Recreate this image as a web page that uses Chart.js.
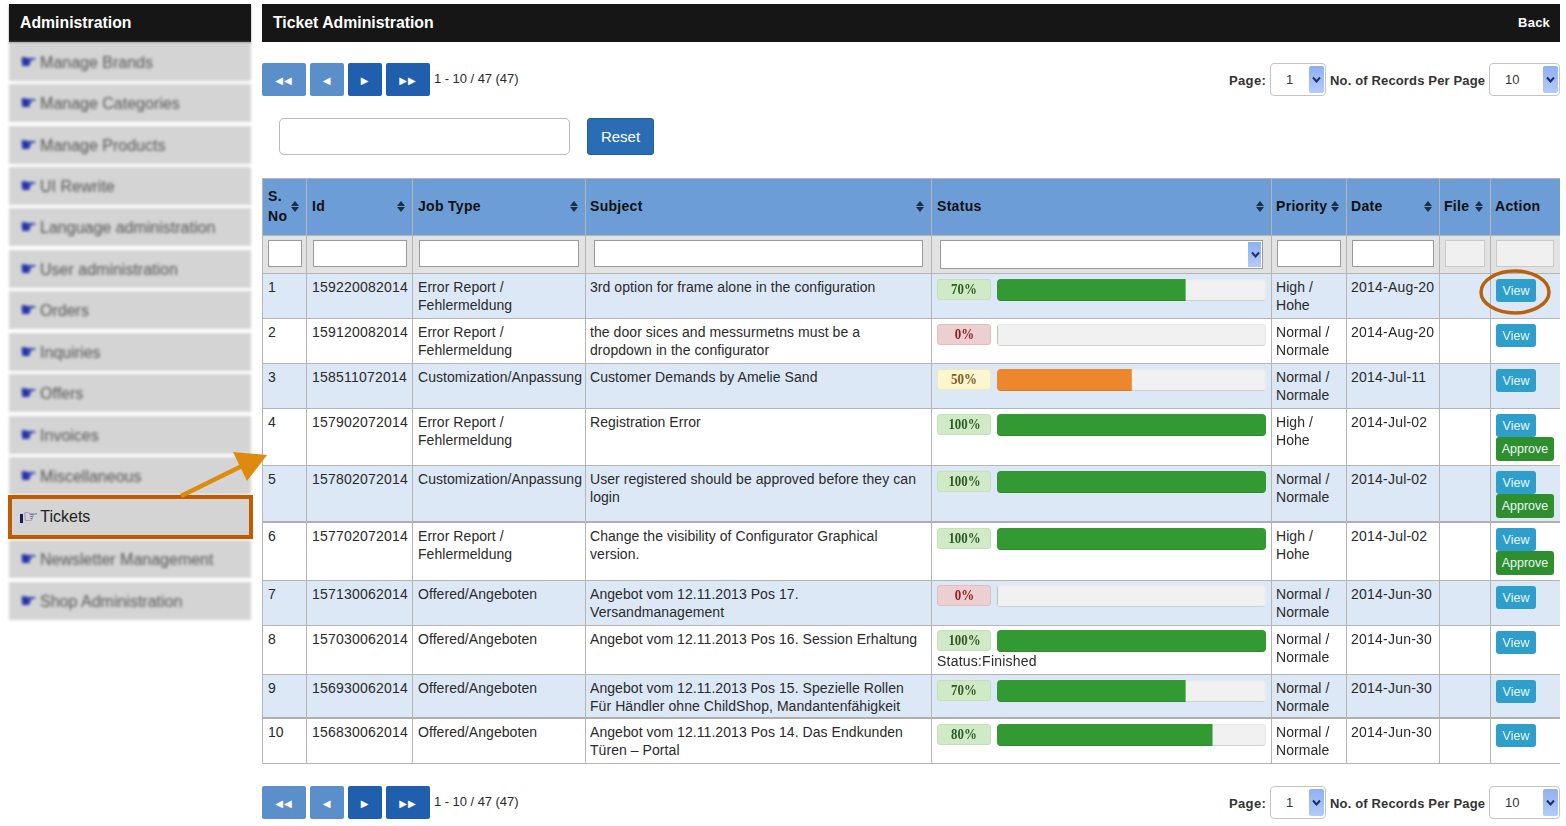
<!DOCTYPE html>
<html>
<head>
<meta charset="utf-8">
<title>Ticket Administration</title>
<script src="https://cdn.jsdelivr.net/npm/chart.js@4"></script>
<style>
html, body { margin: 0; padding: 0; background: #fff; width: 1566px; height: 826px; overflow: hidden; }
body { font-family: "Liberation Sans", Arial, sans-serif; font-size: 14px; color: #2a2a2a; position: relative; }
.titlebar { position: absolute; background: #161616; color: #fff; font-weight: bold; top: 4px; height: 38px; line-height: 37px; box-sizing: border-box; font-size: 15.8px; padding-left: 11px; }
#side-title { left: 9px; width: 242px; box-shadow: 0 2px 2px #999; }
#main-title { left: 262px; width: 1298px; }
#back { position: absolute; right: 10px; top: 0; font-size: 13px; letter-spacing: .2px; }
.menu-item { position: absolute; left: 9px; width: 242px; height: 38px; background: #d4d4d4; line-height: 36px; white-space: nowrap; font-size: 16px; color: #333; box-sizing: border-box; padding-left: 11px; }
.menu-item.blur { filter: blur(1.8px); color: #555; }
.menu-item .hand { font-family: "DejaVu Sans"; color: #2233aa; font-size: 19px; font-weight: bold; margin-right: 3px; }
#tickets { left: 8px; top: 495px; width: 245px; height: 44px; border: 4px solid #c25a00; line-height: 35px; padding-left: 8px; color: #222; z-index: 3; }
#tickets .hand { font-size: 17px; font-weight: normal; color: #1a1a8f; margin-right: 2px; }
#tickets .cuff { display: inline-block; width: 3px; height: 9px; background: #1a1a5f; vertical-align: -1px; }
.pg { position: absolute; height: 33px; border-radius: 2px; color: #fff; font-family: "DejaVu Sans"; font-size: 10px; text-align: center; line-height: 35px; letter-spacing: 1px; }
.pg.light { background: #5b8fc9; }
.pg.dark { background: #1f5fae; }
.pg-info { position: absolute; left: 434px; font-size: 13px; letter-spacing: -.05px; }
.lbl { position: absolute; font-weight: bold; font-size: 13px; letter-spacing: .35px; color: #333; }
.lbl.long { letter-spacing: .15px; }
.sel { position: absolute; height: 33px; border: 1px solid #c4c4c4; border-radius: 4px; box-sizing: border-box; background: #fff; line-height: 32px; color: #333; font-size: 13px; }
.sel .val { position: absolute; left: 15px; }
.sel .arr { position: absolute; right: 1px; top: 2px; bottom: 2px; width: 15px; background: linear-gradient(#8fb0f0, #b4cbf8); border-radius: 2px; }
.sel svg, .fsel svg { position: absolute; left: 3px; top: 50%; margin-top: -4px; }
#search { position: absolute; left: 279px; top: 118px; width: 291px; height: 37px; border: 1px solid #bbb; border-radius: 5px; box-sizing: border-box; background: #fff; }
#reset { position: absolute; left: 587px; top: 118px; width: 67px; height: 37px; background: #2a6db5; border: 1px solid #1f5fa0; border-radius: 3px; box-sizing: border-box; color: #fff; text-align: center; line-height: 35px; font-size: 15px; }
table { position: absolute; left: 262px; top: 178px; width: 1298px; border-collapse: separate; border-spacing: 0; table-layout: fixed; }
th, td { box-sizing: border-box; border-right: 1px solid #b5b5b5; border-bottom: 1px solid #b5b5b5; vertical-align: top; padding: 5.4px 3px 0 5px; position: relative; line-height: 17.5px; letter-spacing: .06px; }
td.num { letter-spacing: .22px; }
th:first-child, td:first-child { border-left: 1px solid #b5b5b5; }
th:last-child, td:last-child { border-right: 0; }
thead tr.head th { height: 58px; background: #6d9dd6; text-align: left; color: #111; vertical-align: middle; padding: 0 0 2px 5px; letter-spacing: .3px; border-top: 1px solid #b5b5b5; line-height: 20px; }
thead tr.filter th { height: 38px; background: #e2e2e2; padding: 0; }
thead tr.head th:nth-child(4), td:nth-child(4),
thead tr.head th:nth-child(n+6), td:nth-child(n+6) { padding-left: 4px; }
tbody tr:nth-child(odd) td { background: #dde8f6; }
tbody tr.thick td { border-bottom: 2px solid #b0b0b0; }
.sort { position: absolute; right: 6px; top: 50%; margin-top: -6px; width: 9px; height: 11px; }
.sort:before, .sort:after { content: ""; position: absolute; left: 0; border-left: 4.5px solid transparent; border-right: 4.5px solid transparent; }
.sort:before { top: 0; border-bottom: 5px solid #1c2f44; }
.sort:after { bottom: 0; border-top: 5px solid #1c2f44; }
.fbox { position: absolute; top: 4px; height: 27px; background: #fff; border: 1px solid #9a9a9a; box-sizing: border-box; }
.fbox.off { background: #f0f0f0; border-color: #c8c8c8; }
.fbox.wide { height: 29px; }
.fsel { position: absolute; right: 1px; top: 1px; bottom: 1px; width: 13px; background: linear-gradient(#8fb0f0, #b4cbf8); }
.badge { position: absolute; left: 5px; top: 5px; width: 54px; height: 21px; border-radius: 3px; box-sizing: border-box; text-align: center; line-height: 19px; font-family: "Liberation Serif", serif; font-weight: bold; font-size: 14px; letter-spacing: 0; }
.badge span { display: inline-block; transform: scaleX(.92); }
.badge.good { background: #d0e9c6; border: 1px solid #c2e2b4; color: #2d5a23; }
.badge.none { background: #eccfd0; border: 1px solid #e3bcbe; color: #8c2020; }
.badge.mid { background: #fcf6cf; border: 1px solid #f2e9b8; color: #7a5c1e; }
.track { position: absolute; left: 65px; top: 5px; width: 269px; height: 22px; background: #f1f1f1; border-radius: 4px; box-shadow: inset 0 0 2px #d8d8d8; overflow: hidden; }
.track:after { content: ""; position: absolute; left: 0; right: 0; bottom: 0; height: 1px; background: rgba(0, 40, 0, .12); }
.track canvas { display: block; }
.finished { position: absolute; left: 5px; top: 27px; letter-spacing: .22px; }
.act { position: absolute; left: 5px; color: #eaf6fb; text-align: center; border-radius: 3px; font-size: 12.5px; letter-spacing: 0; }
.act.view { top: 5px; width: 40px; height: 23px; line-height: 24px; background: #2e9fcb; }
.act.approve { top: 28px; width: 58px; height: 24px; line-height: 25px; background: #2f8f2f; }
#marks { position: absolute; left: 0; top: 0; z-index: 5; pointer-events: none; }
</style>
</head>
<body>
<div class="titlebar" id="side-title">Administration</div>
<div class="titlebar" id="main-title">Ticket Administration<span id="back">Back</span></div>
<div id="menu"></div>
<div id="top-pager"></div>
<div id="search"></div>
<div id="reset">Reset</div>
<table>
  <colgroup id="cols"></colgroup>
  <thead>
    <tr class="head" id="head-row"></tr>
    <tr class="filter" id="filter-row"></tr>
  </thead>
  <tbody id="rows"></tbody>
</table>
<div id="bottom-pager"></div>
<svg id="marks" width="1566" height="826">
  <line x1="181" y1="496" x2="246" y2="464" stroke="#de8a0f" stroke-width="4.5"/>
  <polygon points="267,455 233,452 247,481" fill="#de8a0f"/>
  <ellipse cx="1515" cy="292" rx="34" ry="21" fill="none" stroke="#b8610e" stroke-width="3.5"/>
</svg>

<script>
const menuLabels = ["Manage Brands", "Manage Categories", "Manage Products", "UI Rewrite", "Language administration",
  "User administration", "Orders", "Inquiries", "Offers", "Invoices", "Miscellaneous", "Tickets",
  "Newsletter Management", "Shop Administration"];

const headers = ["S.<br>No", "Id", "Job Type", "Subject", "Status", "Priority", "Date", "File", "Action"];
const sortable = [true, true, true, true, true, true, true, true, false];

const serials = [1, 2, 3, 4, 5, 6, 7, 8, 9, 10];
const ticketIds = ["159220082014", "159120082014", "158511072014", "157902072014", "157802072014",
  "157702072014", "157130062014", "157030062014", "156930062014", "156830062014"];
const jobTypes = ["Error Report /<br>Fehlermeldung", "Error Report /<br>Fehlermeldung", "Customization/Anpassung",
  "Error Report /<br>Fehlermeldung", "Customization/Anpassung", "Error Report /<br>Fehlermeldung",
  "Offered/Angeboten", "Offered/Angeboten", "Offered/Angeboten", "Offered/Angeboten"];
const subjects = ["3rd option for frame alone in the configuration",
  "the door sices and messurmetns must be a<br>dropdown in the configurator",
  "Customer Demands by Amelie Sand",
  "Registration Error",
  "User registered should be approved before they can<br>login",
  "Change the visibility of Configurator Graphical<br>version.",
  "Angebot vom 12.11.2013 Pos 17.<br>Versandmanagement",
  "Angebot vom 12.11.2013 Pos 16. Session Erhaltung",
  "Angebot vom 12.11.2013 Pos 15. Spezielle Rollen<br>Für Händler ohne ChildShop, Mandantenfähigkeit",
  "Angebot vom 12.11.2013 Pos 14. Das Endkunden<br>Türen – Portal"];
const percents = [70, 0, 50, 100, 100, 100, 0, 100, 70, 80];
const statusNotes = ["", "", "", "", "", "", "", "Status:Finished", "", ""];
const priorities = ["High /<br>Hohe", "Normal /<br>Normale", "Normal /<br>Normale", "High /<br>Hohe", "Normal /<br>Normale",
  "High /<br>Hohe", "Normal /<br>Normale", "Normal /<br>Normale", "Normal /<br>Normale", "Normal /<br>Normale"];
const dates = ["2014-Aug-20", "2014-Aug-20", "2014-Jul-11", "2014-Jul-02", "2014-Jul-02",
  "2014-Jul-02", "2014-Jun-30", "2014-Jun-30", "2014-Jun-30", "2014-Jun-30"];
const canApprove = [false, false, false, true, true, true, false, false, false, false];

// layout only
const colWidths = [45, 106, 173, 346, 340, 75, 93, 51, 69];
const rowHeights = [45, 45, 45, 57, 57, 58, 45, 49, 44, 45];
const thickRows = [4, 8];
const tightBarRows = [6, 7];
const filterBoxes = [[5, 34], [6, 94], [6, 160], [8, 329], [8, 323, "wide"], [5, 64], [5, 82], [5, 40, "off"], [5, 58, "off"]];
const chevron = `<svg width="9" height="8" viewBox="0 0 9 8"><path d="M1 1.5 L4.5 5.5 L8 1.5" fill="none" stroke="#1c2f6a" stroke-width="2"/></svg>`;

function barColor(pct) {
  return pct === 50 ? "#ed872d" : "#339933";
}

function badgeClass(pct) {
  if (pct === 0) return "none";
  return pct === 50 ? "mid" : "good";
}

function renderMenu() {
  const root = document.getElementById("menu");
  menuLabels.forEach((label, i) => {
    const el = document.createElement("div");
    el.className = "menu-item";
    if (label === "Tickets") {
      el.id = "tickets";
      el.innerHTML = `<span class="cuff"></span><span class="hand">☞</span>${label}`;
    } else {
      el.classList.add("blur");
      el.style.top = `${42.6 + i * 41.46}px`;
      el.innerHTML = `<span class="hand">☛</span>${label}`;
    }
    root.appendChild(el);
  });
}

function renderPager(rootId, top) {
  const root = document.getElementById(rootId);
  const sel = (left, width, val) => `<div class="sel" style="left:${left}px;top:${top}px;width:${width}px"><span class="val">${val}</span><span class="arr">${chevron}</span></div>`;
  root.innerHTML = `
    <div class="pg light" style="left:262px;top:${top}px;width:44px">◀◀</div>
    <div class="pg light" style="left:310px;top:${top}px;width:34px">◀</div>
    <div class="pg dark" style="left:348px;top:${top}px;width:34px">▶</div>
    <div class="pg dark" style="left:386px;top:${top}px;width:44px">▶▶</div>
    <div class="pg-info" style="top:${top + 8}px">1 - 10 / 47 (47)</div>
    <div class="lbl" style="left:1229px;top:${top + 10}px">Page:</div>
    ${sel(1270, 56, 1)}
    <div class="lbl long" style="left:1330px;top:${top + 10}px">No. of Records Per Page</div>
    ${sel(1489, 71, 10)}`;
}

function renderHead() {
  document.getElementById("cols").innerHTML = colWidths.map((w) => `<col style="width:${w}px">`).join("");
  document.getElementById("head-row").innerHTML = headers.map((h, i) =>
    `<th>${h}${sortable[i] ? '<span class="sort"></span>' : ""}</th>`).join("");
  document.getElementById("filter-row").innerHTML = filterBoxes.map(([left, width, cls]) => {
    const isStatus = cls === "wide";
    return `<th><div class="fbox ${cls || ""}" style="left:${left}px;width:${width}px">${isStatus ? `<span class="fsel">${chevron}</span>` : ""}</div></th>`;
  }).join("");
}

function renderRows() {
  const body = document.getElementById("rows");
  body.innerHTML = serials.map((s, i) => {
    const barTop = tightBarRows.includes(i) ? 4 : 5;
    return `
    <tr class="${thickRows.includes(i) ? "thick" : ""}" style="height:${rowHeights[i]}px">
      <td style="height:${rowHeights[i]}px">${s}</td>
      <td class="num">${ticketIds[i]}</td>
      <td style="white-space:nowrap">${jobTypes[i]}</td>
      <td style="white-space:nowrap">${subjects[i]}</td>
      <td>
        <div class="badge ${badgeClass(percents[i])}" style="top:${barTop}px"><span>${percents[i]}%</span></div>
        <div class="track" style="top:${barTop}px"><canvas id="bar-${i}" width="269" height="22"></canvas></div>
        ${statusNotes[i] ? `<div class="finished">${statusNotes[i]}</div>` : ""}
      </td>
      <td>${priorities[i]}</td>
      <td class="num" style="white-space:nowrap">${dates[i]}</td>
      <td></td>
      <td>
        <div class="act view">View</div>
        ${canApprove[i] ? '<div class="act approve">Approve</div>' : ""}
      </td>
    </tr>`;
  }).join("");
}

function progressBar(i) {
  const pct = percents[i];
  let radius = { topLeft: 4, bottomLeft: 4, topRight: 0, bottomRight: 0 };
  if (pct === 100) radius = 4;
  if (pct === 0) radius = 0;
  new Chart(document.getElementById(`bar-${i}`), {
    type: "bar",
    data: {
      labels: [ticketIds[i]],
      datasets: [{
        label: "Status",
        data: [pct],
        backgroundColor: barColor(pct),
        borderRadius: radius,
        borderSkipped: false,
        barPercentage: 1,
        categoryPercentage: 1,
      }],
    },
    options: {
      indexAxis: "y",
      responsive: false,
      animation: false,
      events: [],
      layout: { padding: 0 },
      plugins: { legend: { display: false }, tooltip: { enabled: false } },
      scales: {
        x: { display: false, min: 0, max: 100 },
        y: { display: false },
      },
    },
  });
}

renderMenu();
renderPager("top-pager", 63);
renderPager("bottom-pager", 786);
renderHead();
renderRows();
percents.forEach((_, i) => progressBar(i));
</script>
</body>
</html>
